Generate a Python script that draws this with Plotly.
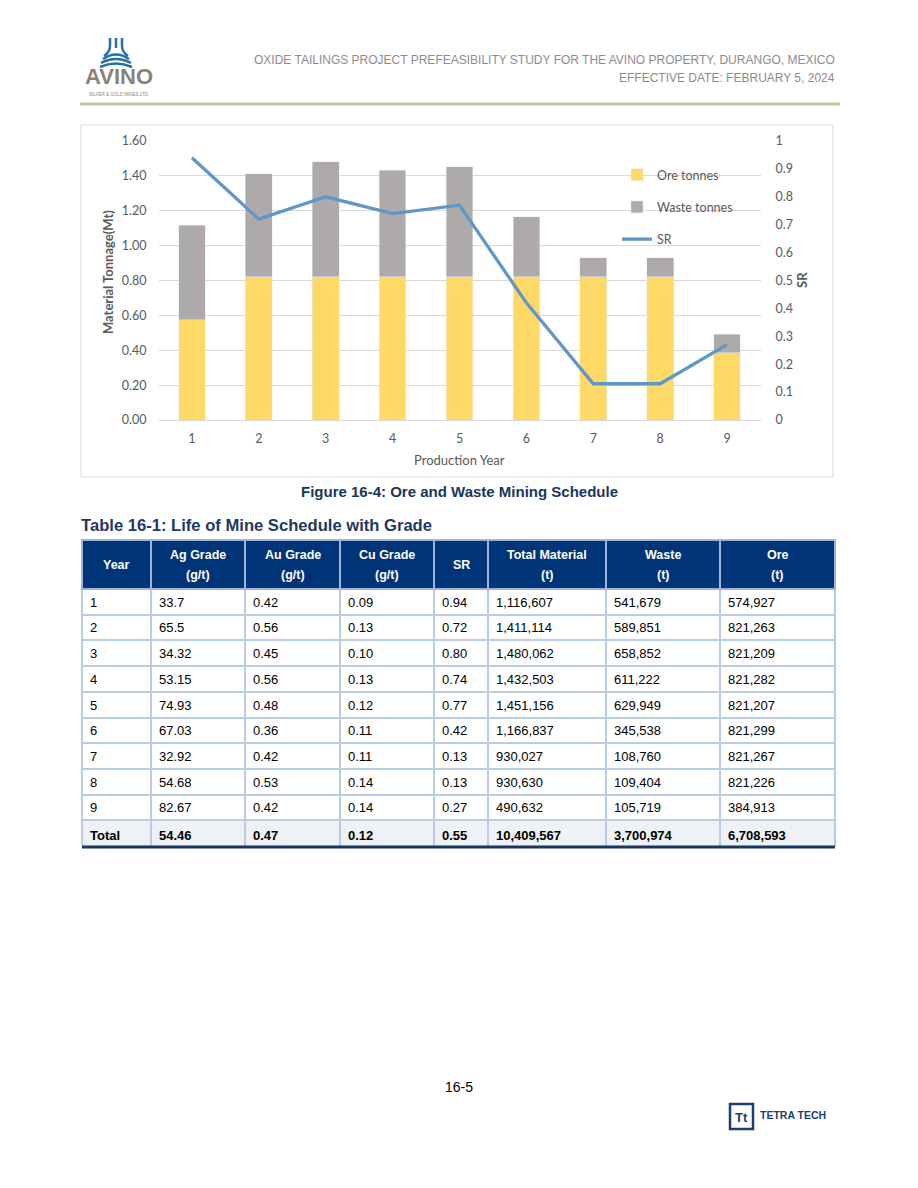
import plotly.graph_objects as go

W, H = 918, 1188

# ---------------- data ----------------
years = [1, 2, 3, 4, 5, 6, 7, 8, 9]
ore_t = [574927, 821263, 821209, 821282, 821207, 821299, 821267, 821226, 384913]
waste_t = [541679, 589851, 658852, 611222, 629949, 345538, 108760, 109404, 105719]
total_t = [1116607, 1411114, 1480062, 1432503, 1451156, 1166837, 930027, 930630, 490632]
sr = [0.94, 0.72, 0.80, 0.74, 0.77, 0.42, 0.13, 0.13, 0.27]
ag_grade = ["33.7", "65.5", "34.32", "53.15", "74.93", "67.03", "32.92", "54.68", "82.67"]
au_grade = ["0.42", "0.56", "0.45", "0.56", "0.48", "0.36", "0.42", "0.53", "0.42"]
cu_grade = ["0.09", "0.13", "0.10", "0.13", "0.12", "0.11", "0.11", "0.14", "0.14"]
totals = {"ag": "54.46", "au": "0.47", "cu": "0.12", "sr": "0.55",
          "total": "10,409,567", "waste": "3,700,974", "ore": "6,708,593"}
header_top = ["Year", "Ag Grade", "Au Grade", "Cu Grade", "SR", "Total Material", "Waste", "Ore"]
header_bot = ["", "(g/t)", "(g/t)", "(g/t)", "", "(t)", "(t)", "(t)"]
col_widths = [69, 94, 95, 94, 54, 118, 114, 115]

ore_mt = [v / 1e6 for v in ore_t]
waste_mt = [v / 1e6 for v in waste_t]


def px(x):
    return x / W


def py(y):
    return 1 - y / H


ORE_C = "#FFD966"
WASTE_C = "#AEAAAA"
SR_C = "#5F97C8"
NAVY = "#003478"
TXT_GRAY = "#595959"
CH_FONT = "Lato, Calibri, Open Sans, sans-serif"
ARIAL = "Liberation Sans, Arial, sans-serif"

fig = go.Figure()

fig.add_trace(go.Bar(x=years, y=ore_mt, name="Ore tonnes", marker_color=ORE_C,
                     width=0.4, legendgroup="a"))
fig.add_trace(go.Bar(x=years, y=waste_mt, name="Waste tonnes", marker_color=WASTE_C,
                     width=0.4, legendgroup="b"))
fig.add_trace(go.Scatter(x=years, y=sr, name="SR", mode="lines", yaxis="y2",
                         line=dict(color=SR_C, width=3.3), legendgroup="c"))

# ---------------- table ----------------
year_col = [str(y) for y in years] + ["<b>Total</b>"]
ag_col = ag_grade + ["<b>%s</b>" % totals["ag"]]
au_col = au_grade + ["<b>%s</b>" % totals["au"]]
cu_col = cu_grade + ["<b>%s</b>" % totals["cu"]]
sr_col = ["%.2f" % v for v in sr] + ["<b>%s</b>" % totals["sr"]]
tot_col = [f"{v:,}" for v in total_t] + ["<b>%s</b>" % totals["total"]]
waste_col = [f"{v:,}" for v in waste_t] + ["<b>%s</b>" % totals["waste"]]
ore_col = [f"{v:,}" for v in ore_t] + ["<b>%s</b>" % totals["ore"]]
cols = [year_col, ag_col, au_col, cu_col, sr_col, tot_col, waste_col, ore_col]
row_fill = ["white"] * 9 + ["#EEF2F6"]

fig.add_trace(go.Table(
    domain=dict(x=[px(82), px(835)], y=[py(847), py(540)]),
    columnwidth=col_widths,
    header=dict(values=[""] * 8, fill_color=NAVY, height=49,
                line=dict(color="#9DB5D6", width=1.5)),
    cells=dict(values=cols, fill_color=[row_fill] * 8, height=25.7,
               align="left", font=dict(family=ARIAL, size=13, color="black"),
               line=dict(color="#B8CCE4", width=2)),
))

# ---------------- layout ----------------
fig.update_layout(
    width=W, height=H, margin=dict(l=0, r=0, t=0, b=0, autoexpand=False),
    paper_bgcolor="white", plot_bgcolor="white",
    barmode="stack", bargap=0.6,
    font=dict(family=CH_FONT, size=12.5, color=TXT_GRAY),
    xaxis=dict(domain=[px(158.5), px(760.5)], range=[0.5, 9.5], tickvals=years,
               showgrid=False, showline=True, linecolor="#D9D9D9", linewidth=1,
               ticks="", automargin=False, ticklabelstandoff=7,
               tickfont=dict(family=CH_FONT, size=12.5, color=TXT_GRAY)),
    yaxis=dict(domain=[py(420), py(141)], range=[0, 1.6], dtick=0.2, tickformat=".2f",
               showgrid=True, gridcolor="#D9D9D9", gridwidth=1, zeroline=False,
               showline=False, ticks="", automargin=False, ticklabelstandoff=11,
               tickfont=dict(family=CH_FONT, size=12.5, color=TXT_GRAY)),
    yaxis2=dict(overlaying="y", side="right", range=[0, 1], dtick=0.1,
                showgrid=False, zeroline=False, showline=False, ticks="",
                automargin=False, ticklabelstandoff=14,
                tickfont=dict(family=CH_FONT, size=12.5, color=TXT_GRAY)),
    legend=dict(x=px(617), y=py(160), xanchor="left", yanchor="top",
                bgcolor="rgba(0,0,0,0)", traceorder="grouped", tracegroupgap=13,
                font=dict(family=CH_FONT, size=12.5, color=TXT_GRAY)),
    showlegend=True,
)

shapes = []
annotations = []


def ann(x, y, text, size, color, family=ARIAL, xanchor="center", angle=0):
    annotations.append(dict(x=px(x), y=py(y), xref="paper", yref="paper", text=text,
                            showarrow=False, xanchor=xanchor, yanchor="middle",
                            textangle=angle, font=dict(family=family, size=size, color=color)))


# header rule
shapes.append(dict(type="line", xref="paper", yref="paper", x0=px(80), x1=px(840),
                   y0=py(104), y1=py(104), line=dict(color="#C8C4A2", width=3)))
# chart border
shapes.append(dict(type="rect", xref="paper", yref="paper", x0=px(81), x1=px(833),
                   y0=py(477), y1=py(125), line=dict(color="#D9D9D9", width=1)))
# table bottom thick line
shapes.append(dict(type="line", xref="paper", yref="paper", x0=px(82), x1=px(835),
                   y0=py(847), y1=py(847), line=dict(color="#17365D", width=3)))


def P(x, y):
    return "%.5f,%.5f" % (px(x), py(y))


# AVINO icon (approximate)
icon_c = "#2270A8"
strokes = [
    "M" + P(110, 38) + " L" + P(110, 46) + " Q" + P(110, 52) + " " + P(104, 56),
    "M" + P(116, 38) + " L" + P(116, 48),
    "M" + P(122, 38) + " L" + P(122, 46) + " Q" + P(122, 52) + " " + P(128, 56),
    "M" + P(103, 59) + " Q" + P(116, 50) + " " + P(129, 59),
    "M" + P(101, 63) + " Q" + P(116, 55) + " " + P(131, 63),
    "M" + P(100, 67) + " Q" + P(116, 60) + " " + P(132, 67),
]
for s in strokes:
    shapes.append(dict(type="path", xref="paper", yref="paper", path=s,
                       line=dict(color=icon_c, width=2.5)))
ann(119, 77, "<b>AVINO</b>", 22, "#8A8275")
ann(119, 94, "SILVER &amp; GOLD MINES LTD.", 4.5, "#8A8275")

# page header text
ann(837, 60, "OXIDE TAILINGS PROJECT PREFEASIBILITY STUDY FOR THE AVINO PROPERTY, DURANGO, MEXICO",
    12, "#8C8C8C", xanchor="right")
ann(837, 78, "EFFECTIVE DATE: FEBRUARY 5, 2024", 12, "#8C8C8C", xanchor="right")

# axis titles
ann(108, 272, "<b>Material Tonnage(Mt)</b>", 13, TXT_GRAY, family=CH_FONT, angle=-90)
ann(802, 280, "<b>SR</b>", 13, TXT_GRAY, family=CH_FONT, angle=-90)
ann(460, 460, "Production Year", 13, TXT_GRAY, family=CH_FONT)

# captions
ann(459, 491, "<b>Figure 16-4: Ore and Waste Mining Schedule</b>", 15, "#17365D")
ann(79, 526, "<b>Table 16-1: Life of Mine Schedule with Grade</b>", 16.6, "#1F3864", xanchor="left")

# table header labels
xl = 82
for w, t, b in zip(col_widths, header_top, header_bot):
    cx = xl + w / 2
    if b:
        ann(cx, 555, "<b>%s</b>" % t, 12.5, "white")
        ann(cx, 575, "<b>%s</b>" % b, 12.5, "white")
    else:
        ann(cx, 565, "<b>%s</b>" % t, 12.5, "white")
    xl += w

# page number
ann(459, 1087, "16-5", 14, "black")

# Tetra Tech logo
shapes.append(dict(type="rect", xref="paper", yref="paper", x0=px(730), x1=px(753),
                   y0=py(1129), y1=py(1104), line=dict(color="#1B3F6F", width=2.5)))
ann(741.5, 1117, "<b>Tt</b>", 13, "#1B3F6F")
ann(758, 1115, "<b>TETRA TECH</b>", 10.5, "#1B3F6F", xanchor="left")

fig.update_layout(shapes=shapes, annotations=annotations)

fig.write_html("out.html", config={"displayModeBar": False},
               post_script="document.body.style.margin='0';")
